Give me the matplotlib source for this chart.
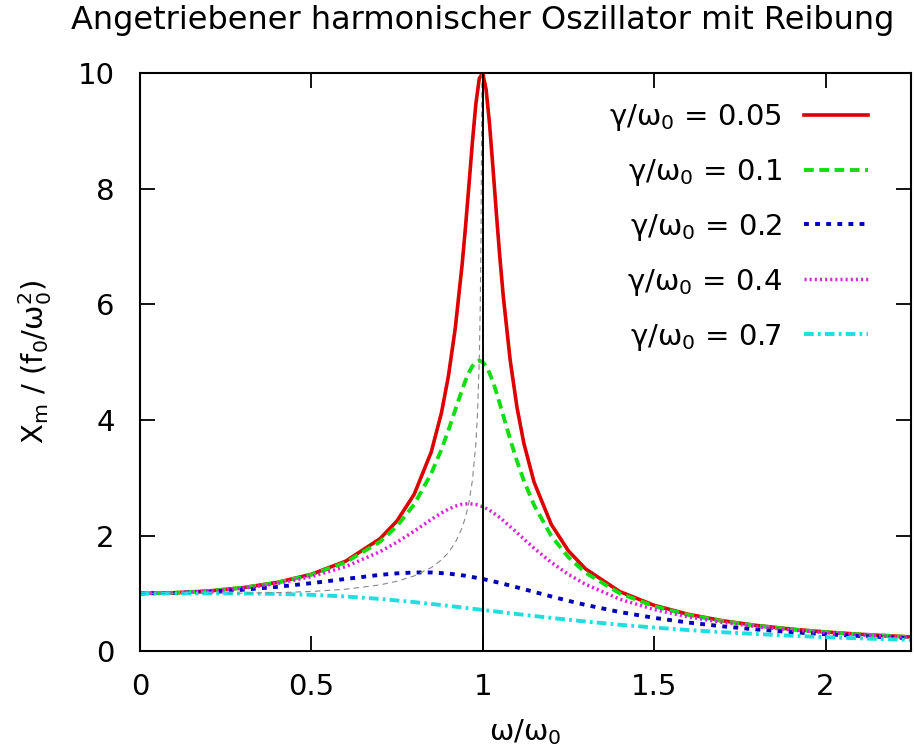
import matplotlib
matplotlib.use("Agg")
import matplotlib.pyplot as plt

plt.rcParams['font.family'] = ['DejaVu Sans']
plt.rcParams['mathtext.default'] = 'regular'
plt.rcParams['lines.scale_dashes'] = False

# omega / omega_0 sample points
x_fine = [0, 0.1, 0.2, 0.3, 0.4, 0.5, 0.6, 0.7, 0.75, 0.8, 0.85, 0.88, 0.9, 0.92,
          0.94, 0.95, 0.96, 0.97, 0.98, 0.99, 1.0, 1.01, 1.02, 1.03, 1.04, 1.05,
          1.06, 1.08, 1.1, 1.12, 1.15, 1.2, 1.25, 1.3, 1.4, 1.5, 1.6, 1.7, 1.8,
          1.9, 2.0, 2.1, 2.25]

# gamma/omega_0 = 0.05 (red)
y_005 = [1.000, 1.010, 1.041, 1.098, 1.189, 1.330, 1.556, 1.943, 2.253, 2.712,
         3.446, 4.130, 4.757, 5.585, 6.684, 7.346, 8.068, 8.804, 9.461, 9.903,
         10.000, 9.711, 9.115, 8.357, 7.565, 6.815, 6.141, 5.041, 4.218, 3.598,
         2.921, 2.193, 1.736, 1.424, 1.031, 0.794, 0.638, 0.527, 0.445, 0.382,
         0.333, 0.293, 0.246]

# gamma/omega_0 = 0.1 (green)
y_01 = [1.000, 1.010, 1.041, 1.097, 1.185, 1.322, 1.536, 1.891, 2.162, 2.538,
        3.073, 3.495, 3.821, 4.172, 4.523, 4.683, 4.822, 4.931, 5.001, 5.025,
        5.000, 4.926, 4.809, 4.655, 4.476, 4.279, 4.075, 3.668, 3.288, 2.950,
        2.525, 1.995, 1.625, 1.356, 1.000, 0.778, 0.628, 0.521, 0.441, 0.379,
        0.330, 0.291, 0.245]

x_mid = [0, 0.1, 0.2, 0.3, 0.4, 0.5, 0.6, 0.7, 0.75, 0.8, 0.85, 0.88, 0.9, 0.92,
         0.94, 0.96, 0.98, 1.0, 1.02, 1.05, 1.1, 1.15, 1.2, 1.25, 1.3, 1.4, 1.5,
         1.6, 1.7, 1.8, 1.9, 2.0, 2.1, 2.25]

# "gamma/omega_0 = 0.4" (magenta)
y_04 = [1.000, 1.009, 1.038, 1.090, 1.170, 1.288, 1.463, 1.719, 1.885, 2.076,
        2.279, 2.392, 2.457, 2.508, 2.541, 2.552, 2.538, 2.500, 2.439, 2.313,
        2.051, 1.780, 1.536, 1.329, 1.157, 0.900, 0.721, 0.593, 0.498, 0.425,
        0.368, 0.322, 0.285, 0.240]

x_wide = [0, 0.1, 0.2, 0.3, 0.4, 0.5, 0.6, 0.7, 0.75, 0.8, 0.85, 0.9, 0.95, 1.0,
          1.05, 1.1, 1.15, 1.2, 1.25, 1.3, 1.4, 1.5, 1.6, 1.7, 1.8, 1.9, 2.0,
          2.1, 2.25]

# "gamma/omega_0 = 0.2" (blue)
y_02 = [1.000, 1.007, 1.028, 1.063, 1.113, 1.177, 1.250, 1.320, 1.347, 1.362,
        1.362, 1.343, 1.305, 1.250, 1.182, 1.105, 1.026, 0.947, 0.872, 0.801,
        0.678, 0.577, 0.496, 0.430, 0.376, 0.331, 0.294, 0.263, 0.225]

x_coarse = [0, 0.1, 0.2, 0.3, 0.4, 0.5, 0.6, 0.7, 0.8, 0.9, 1.0, 1.1, 1.2, 1.3,
            1.4, 1.5, 1.6, 1.7, 1.8, 1.9, 2.0, 2.1, 2.25]

# gamma/omega_0 = 0.7 (cyan)
y_07 = [1.000, 1.000, 1.000, 0.998, 0.991, 0.975, 0.947, 0.905, 0.850, 0.785,
        0.714, 0.643, 0.576, 0.514, 0.458, 0.409, 0.366, 0.329, 0.297, 0.268,
        0.244, 0.222, 0.195]

# position of the resonance maximum (thin grey line)
x_peak = [0, 0.2, 0.3, 0.4, 0.5, 0.6, 0.7, 0.75, 0.8, 0.85, 0.88, 0.9, 0.92,
          0.94, 0.95, 0.96, 0.97, 0.98, 0.985, 0.99, 0.993, 0.995, 0.997, 0.9975]
y_peak = [1.000, 1.001, 1.004, 1.013, 1.033, 1.072, 1.147, 1.210, 1.302, 1.446,
          1.581, 1.705, 1.878, 2.136, 2.322, 2.576, 2.953, 3.589, 4.129, 5.038,
          6.008, 7.098, 9.149, 10.02]

omega_res = 1.0

labels = [r'γ/ω$_0$ = 0.05', r'γ/ω$_0$ = 0.1', r'γ/ω$_0$ = 0.2',
          r'γ/ω$_0$ = 0.4', r'γ/ω$_0$ = 0.7']

fig = plt.figure(figsize=(9.14, 7.52), dpi=100)
ax = fig.add_axes([0.153, 0.134, 0.844, 0.769])

ax.plot(x_fine, y_005, color='#dd0000', lw=2.6, label=labels[0])
ax.plot(x_fine, y_01, color='#11dd11', lw=2.8, ls=(0, (7, 4)), label=labels[1])
ax.plot(x_wide, y_02, color='#0000bb', lw=2.8, ls=(0, (3.5, 4.5)), label=labels[2])
ax.plot(x_mid, y_04, color='#dd22dd', lw=2.5, ls=(0, (1.5, 2.2)), label=labels[3])
ax.plot(x_coarse, y_07, color='#22dddd', lw=2.8, ls=(0, (7, 3, 2, 3)), label=labels[4])
ax.plot(x_peak, y_peak, color='#888888', lw=0.8, ls=(0, (4, 3)))
ax.axvline(omega_res, color='black', lw=1.4)

ax.set_xlim(0, 2.25)
ax.set_ylim(0, 10)
ax.set_xticks([0, 0.5, 1, 1.5, 2])
ax.set_xticklabels(['0', '0.5', '1', '1.5', '2'])
ax.set_yticks([0, 2, 4, 6, 8, 10])
ax.tick_params(direction='in', length=11, width=1.3, top=True, right=True,
               labelsize=21)
ax.tick_params(axis='x', pad=16)
ax.tick_params(axis='y', pad=18)
for s in ax.spines.values():
    s.set_linewidth(1.5)

ax.set_xlabel(r'ω/ω$_0$', fontsize=21, labelpad=11)
ax.set_ylabel(r'X$_m$ / (f$_0$/ω$_0^2$)', fontsize=21, labelpad=17)
fig.text(0.528, 0.9614, 'Angetriebener harmonischer Oszillator mit Reibung',
         ha='center', va='baseline', fontsize=23)

ax.legend(loc='upper right', bbox_to_anchor=(0.944, 0.95), frameon=False,
          markerfirst=False, fontsize=21, handlelength=2.2, handletextpad=0.75,
          labelspacing=0.82, borderpad=0, borderaxespad=0)

fig.savefig('out.png', dpi=100)
